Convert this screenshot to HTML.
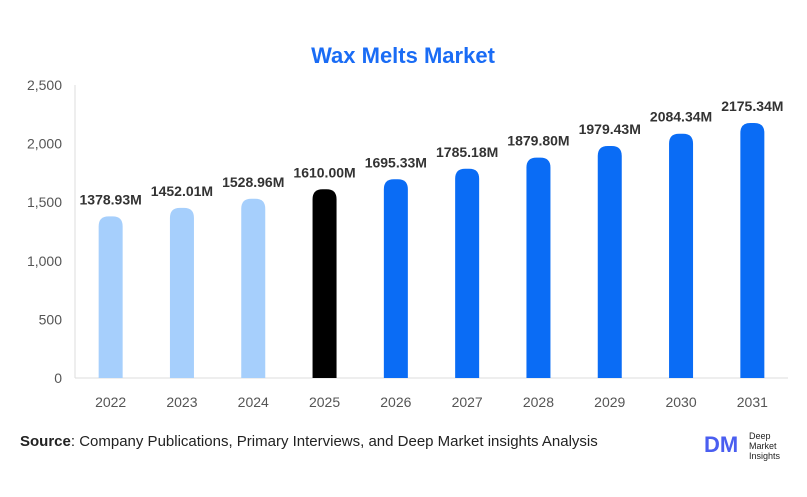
<!DOCTYPE html>
<html><head><meta charset="utf-8"><style>
body{margin:0;background:#fff;width:807px;height:492px;overflow:hidden;font-family:"Liberation Sans",sans-serif}
</style></head><body>
<svg width="807" height="492" id="c">
<text x="403" y="63" text-anchor="middle" font-size="22" font-weight="bold" fill="#1a6cf5">Wax Melts Market</text>
<g id="axes"></g><g id="bars"></g>
<text x="20" y="446" font-size="15" fill="#222"><tspan font-weight="bold">Source</tspan>: Company Publications, Primary Interviews, and Deep Market insights Analysis</text>
<g>
<text x="704" y="452" font-size="22" font-weight="bold" fill="#4a5ef0">DM</text>
<text x="749" y="439" font-size="9" fill="#222">Deep</text>
<text x="749" y="449" font-size="9" fill="#222">Market</text>
<text x="749" y="459" font-size="9" fill="#222">Insights</text>
</g>
</svg>
<script>
const categories=["2022","2023","2024","2025","2026","2027","2028","2029","2030","2031"];
const values=[1378.93,1452.01,1528.96,1610.00,1695.33,1785.18,1879.80,1979.43,2084.34,2175.34];
const labels=["1378.93M","1452.01M","1528.96M","1610.00M","1695.33M","1785.18M","1879.80M","1979.43M","2084.34M","2175.34M"];
const colors=["#a6cffc","#a6cffc","#a6cffc","#000000","#0a6cf5","#0a6cf5","#0a6cf5","#0a6cf5","#0a6cf5","#0a6cf5"];
const yTicks=[0,500,1000,1500,2000,2500];
const yTickLabels=["0","500","1,000","1,500","2,000","2,500"];
const NS="http://www.w3.org/2000/svg";
const x0=75,x1=788,yBase=378,yTop=85,yMax=2500;
const y=v=>yBase-(v/yMax)*(yBase-yTop);
const step=(x1-x0)/categories.length;
const xc=i=>x0+step*(i+0.5);
function mk(t,a,p){const e=document.createElementNS(NS,t);for(const k in a)e.setAttribute(k,a[k]);p.appendChild(e);return e;}
const ax=document.getElementById('axes'),bg=document.getElementById('bars');
const yl=mk('line',{x1:x0,x2:x0,y1:yTop,y2:yBase,stroke:'#ddd'},ax);


const xl=mk('line',{x1:x0,x2:x1,y1:yBase,y2:yBase,stroke:'#ddd'},ax);


yTicks.forEach((t,i)=>{const e=mk('text',{x:62,y:y(t)+5,'text-anchor':'end','font-size':14,fill:'#555'},ax);e.textContent=yTickLabels[i];

});
categories.forEach((c,i)=>{
const cx=xc(i),w=24,top=y(values[i]),r=10;
const p=mk('path',{d:`M${cx-w/2},${yBase}V${top+r}Q${cx-w/2},${top} ${cx-w/2+r},${top}H${cx+w/2-r}Q${cx+w/2},${top} ${cx+w/2},${top+r}V${yBase}Z`,fill:colors[i]},bg);


const l=mk('text',{x:cx,y:top-12,'text-anchor':'middle','font-size':14,'font-weight':'bold',fill:'#333'},bg);l.textContent=labels[i];


const t=mk('text',{x:cx,y:407,'text-anchor':'middle','font-size':14,fill:'#555'},bg);t.textContent=c;


});
</script>
</body></html>
